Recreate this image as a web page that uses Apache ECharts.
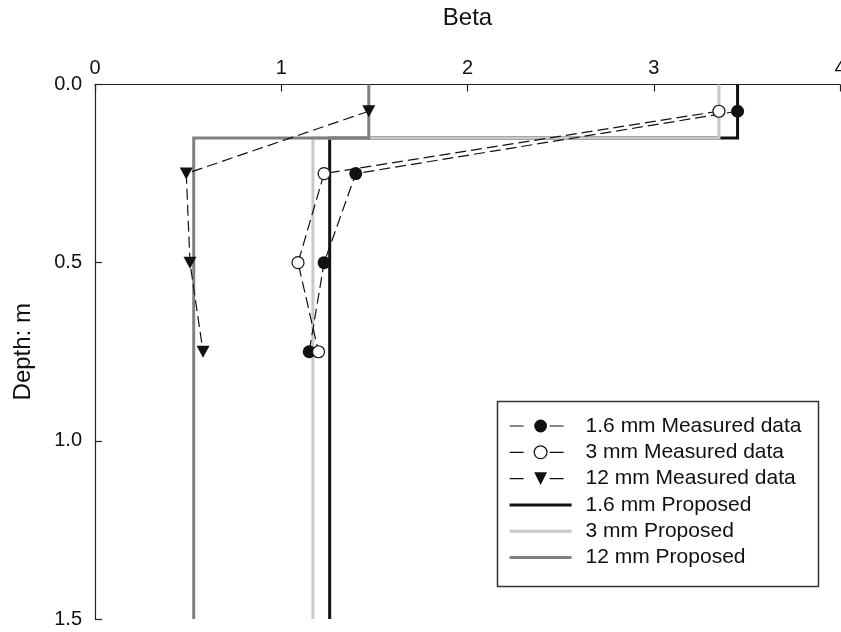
<!DOCTYPE html>
<html><head><meta charset="utf-8">
<script src="https://cdn.jsdelivr.net/npm/echarts@6/dist/echarts.min.js"></script>
<style>html,body{margin:0;padding:0;background:#fff}#c{width:841px;height:632px}</style>
</head><body><div id="c"></div>
<script>
// ---- data ----
const measuredDepths = [0.075, 0.25, 0.5, 0.75];
const measured16 = [3.45, 1.40, 1.23, 1.15];
const measured3 = [3.35, 1.23, 1.09, 1.20];
const measured12 = [1.47, 0.49, 0.51, 0.58];
const proposedDepths = [0, 0.15, 0.15, 1.5];
const proposed16 = [3.45, 3.45, 1.26, 1.26];
const proposed3 = [3.35, 3.35, 1.17, 1.17];
const proposed12 = [1.47, 1.47, 0.53, 0.53];
const betaTicks = [0, 1, 2, 3, 4];
const depthTicks = [0.0, 0.5, 1.0, 1.5];
const names = ['1.6 mm Measured data', '3 mm Measured data', '12 mm Measured data',
               '1.6 mm Proposed', '3 mm Proposed', '12 mm Proposed'];

const FONT = 'Liberation Sans, Arial, sans-serif';
const pairs = (xs, ys) => xs.map((x, i) => [x, ys[i]]);

const chart = echarts.init(document.getElementById('c'), null, {renderer: 'canvas'});

const dashed = [11, 5];
function proposedSeries(name, xs, color) {
  return {
    name, type: 'line', data: pairs(xs, proposedDepths),
    symbol: 'none', showSymbol: false,
    lineStyle: {color, width: 3, cap: 'butt', join: 'miter'},
    itemStyle: {color},
    silent: true
  };
}
function measuredSeries(name, xs, symbol, fill, size, rotate) {
  return {
    name, type: 'line', data: pairs(xs, measuredDepths),
    symbol, symbolSize: size, symbolRotate: rotate || 0, showSymbol: true,
    lineStyle: {color: '#111', width: 1.2, type: dashed},
    itemStyle: {color: fill, borderColor: '#111', borderWidth: fill === '#fff' ? 1.2 : 0},
    silent: true
  };
}

const legendDash = [14, 26, 14, 100];
const option = {
  animation: false,
  backgroundColor: '#fff',
  textStyle: {fontFamily: FONT},
  grid: {left: 95, right: 1, top: 84.5, bottom: 13, containLabel: false, outerBoundsMode: 'none'},
  xAxis: {
    type: 'value', position: 'top',
    min: betaTicks[0], max: betaTicks[betaTicks.length - 1], interval: betaTicks[1] - betaTicks[0],
    name: 'Beta', nameLocation: 'middle', nameGap: 54,
    nameTextStyle: {fontSize: 24, color: '#111', fontFamily: FONT},
    axisLine: {show: true, lineStyle: {color: '#222', width: 1.2}},
    axisTick: {show: true, inside: true, length: 7, lineStyle: {color: '#222', width: 1.2}},
    axisLabel: {fontSize: 20, color: '#111', margin: 6, fontFamily: FONT, showMaxLabel: true, showMinLabel: true, hideOverlap: false},
    splitLine: {show: false}
  },
  yAxis: {
    type: 'value', inverse: true,
    min: depthTicks[0], max: depthTicks[depthTicks.length - 1], interval: depthTicks[1] - depthTicks[0],
    name: 'Depth: m', nameLocation: 'middle', nameGap: 60, nameRotate: 90,
    nameTextStyle: {fontSize: 24, color: '#111', fontFamily: FONT},
    axisLine: {show: true, lineStyle: {color: '#222', width: 1.2}},
    axisTick: {show: true, inside: true, length: 7, lineStyle: {color: '#222', width: 1.2}},
    axisLabel: {fontSize: 20, color: '#111', margin: 13, fontFamily: FONT,
      formatter: v => v.toFixed(1), showMaxLabel: true, showMinLabel: true, hideOverlap: false},
    splitLine: {show: false}
  },
  legend: {
    orient: 'vertical', left: 509, top: 415.5, padding: 0,
    itemWidth: 62, itemHeight: 16, itemGap: 5.3,
    selectedMode: false,
    textStyle: {fontSize: 21, color: '#111', fontFamily: FONT, padding: [0, 0, 0, 9]},
    data: [
      {name: names[0], lineStyle: {color: '#111', width: 1.2, type: legendDash}, itemStyle: {color: '#111', borderWidth: 0}},
      {name: names[1], lineStyle: {color: '#111', width: 1.2, type: legendDash}, itemStyle: {color: '#fff', borderColor: '#111', borderWidth: 1.2}},
      {name: names[2], lineStyle: {color: '#111', width: 1.2, type: legendDash}, itemStyle: {color: '#111', borderWidth: 0}},
      {name: names[3], icon: 'path://M0,0H62V3H0Z', itemStyle: {color: '#111', borderWidth: 0}},
      {name: names[4], icon: 'path://M0,0H62V3H0Z', itemStyle: {color: '#c8c8c8', borderWidth: 0}},
      {name: names[5], icon: 'path://M0,0H62V3H0Z', itemStyle: {color: '#808080', borderWidth: 0}}
    ]
  },
  graphic: [{
    type: 'rect', left: 495, top: 399, z: 100,
    shape: {width: 321, height: 185},
    style: {fill: 'none', stroke: '#333', lineWidth: 1.5}
  }],
  series: [
    proposedSeries(names[3], proposed16, '#111'),
    proposedSeries(names[4], proposed3, '#c8c8c8'),
    proposedSeries(names[5], proposed12, '#808080'),
    measuredSeries(names[0], measured16, 'circle', '#111', 13),
    measuredSeries(names[1], measured3, 'circle', '#fff', 12),
    measuredSeries(names[2], measured12, 'triangle', '#111', [13, 12], 180)
  ]
};
chart.setOption(option);
</script></body></html>
